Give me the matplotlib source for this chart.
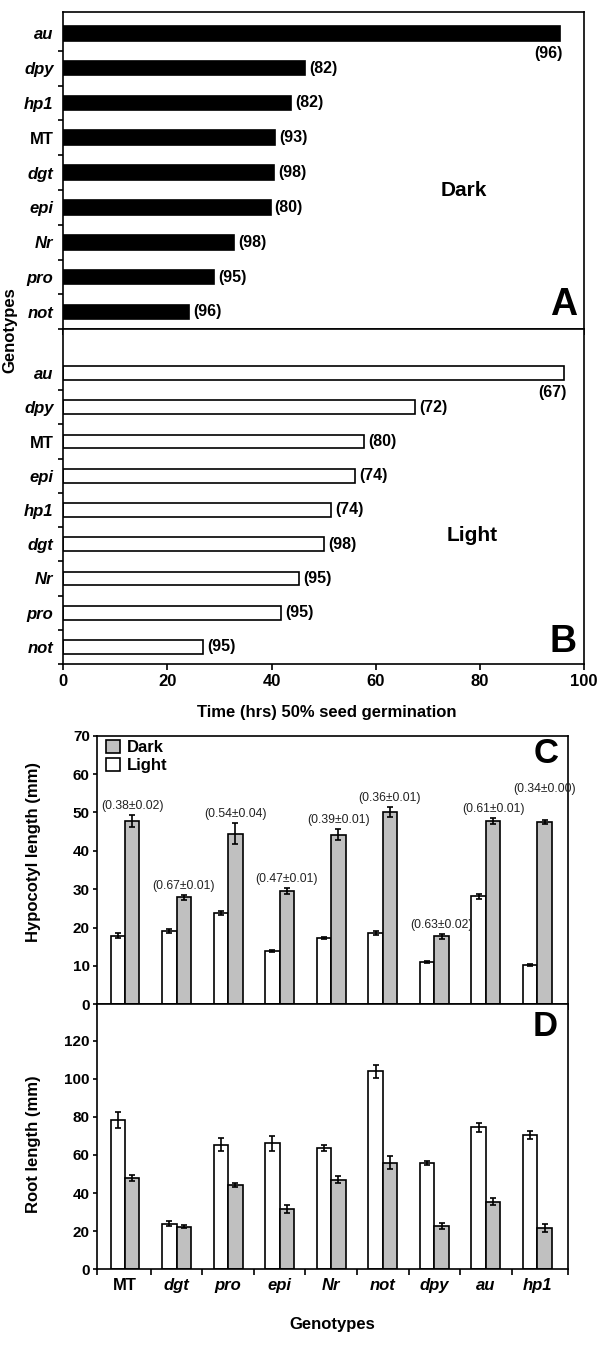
import matplotlib
matplotlib.use('Agg')
import numpy as np
from matplotlib import pyplot as plt

plt.rcParams['font.family'] = ['Liberation Sans', 'DejaVu Sans']
plt.rcParams['font.weight'] = 'bold'

# panel A (dark) - genotypes top to bottom
dark_names = ['au', 'dpy', 'hp1', 'MT', 'dgt', 'epi', 'Nr', 'pro', 'not']
dark_time = [95.4, 46.5, 43.8, 40.6, 40.4, 39.8, 32.8, 28.9, 24.2]
dark_pct = [96, 82, 82, 93, 98, 80, 98, 95, 96]

# panel B (light)
light_names = ['au', 'dpy', 'MT', 'epi', 'hp1', 'dgt', 'Nr', 'pro', 'not']
light_time = [96.2, 67.5, 57.8, 56.0, 51.5, 50.1, 45.2, 41.8, 26.9]
light_pct = [67, 72, 80, 74, 74, 98, 95, 95, 95]

# panels C and D
genotypes = ['MT', 'dgt', 'pro', 'epi', 'Nr', 'not', 'dpy', 'au', 'hp1']
hyp_light = [17.9, 19.1, 23.9, 13.9, 17.2, 18.6, 11.1, 28.1, 10.3]
hyp_light_err = [0.6, 0.4, 0.5, 0.3, 0.3, 0.6, 0.3, 0.7, 0.3]
hyp_dark = [47.8, 27.9, 44.5, 29.5, 44.2, 50.1, 17.7, 47.7, 47.5]
hyp_dark_err = [1.5, 0.6, 2.8, 0.7, 1.5, 1.3, 0.6, 0.8, 0.6]
ratios = ['(0.38±0.02)', '(0.67±0.01)', '(0.54±0.04)', '(0.47±0.01)', '(0.39±0.01)',
          '(0.36±0.01)', '(0.63±0.02)', '(0.61±0.01)', '(0.34±0.00)']
root_light = [78.4, 24.0, 65.4, 66.1, 63.7, 103.8, 55.7, 74.4, 70.6]
root_light_err = [4.2, 1.5, 3.3, 4.0, 1.6, 3.3, 1.0, 2.4, 2.2]
root_dark = [48.0, 22.3, 44.3, 31.5, 47.0, 56.0, 22.6, 35.5, 21.6]
root_dark_err = [1.5, 0.8, 1.0, 2.0, 2.0, 3.3, 1.6, 2.0, 2.1]

GRAY = '#c0c0c0'

fig = plt.figure(figsize=(6, 13.45), dpi=100)
axA = fig.add_axes([0.1055, 0.7552, 0.8678, 0.2361])
axB = fig.add_axes([0.1055, 0.5063, 0.8678, 0.2489])
axC = fig.add_axes([0.1612, 0.2533, 0.786, 0.1997])
axD = fig.add_axes([0.1612, 0.0563, 0.786, 0.197])


def style_labels(labels):
    for t in labels:
        t.set_fontstyle('normal' if t.get_text() == 'MT' else 'italic')
        t.set_fontweight('bold')


def germ_panel(ax, names, vals, pct, face, ylim, cond, cond_xy, letter, letter_y, h):
    n = len(names)
    y = np.arange(n)[::-1]
    ax.barh(y, vals, height=h, color=face, edgecolor='black', linewidth=1.2)
    for yi, v, p in zip(y, vals, pct):
        if v > 90:
            ax.annotate('(%d)' % p, (v, yi - h / 2), xytext=(2, -4), textcoords='offset points',
                        ha='right', va='top', fontsize=11.5, fontweight='bold')
        else:
            ax.annotate('(%d)' % p, (v, yi), xytext=(3, 0), textcoords='offset points',
                        ha='left', va='center', fontsize=11.5, fontweight='bold')
    ax.set_xlim(0, 100)
    ax.set_ylim(*ylim)
    ax.set_xticks(np.arange(0, 101, 20))
    ax.set_yticks(y)
    ax.set_yticklabels(names, fontsize=12)
    style_labels(ax.get_yticklabels())
    ax.set_yticks(np.arange(-0.5, n - 1, 1.0), minor=True)
    ax.tick_params(axis='y', which='major', length=0, pad=7)
    ax.tick_params(axis='y', which='minor', length=3.5, width=1.2, direction='out')
    ax.tick_params(axis='x', length=4, width=1.2, direction='out', labelsize=12)
    for s in ax.spines.values():
        s.set_linewidth(1.2)
    ax.text(cond_xy[0], cond_xy[1], cond, fontsize=15, fontweight='bold', ha='center', va='center')
    ax.text(0.96, letter_y, letter, transform=ax.transAxes, fontsize=27, fontweight='bold',
            ha='center', va='center')


germ_panel(axA, dark_names, dark_time, dark_pct, 'black', (-0.48, 8.62), 'Dark', (77, 3.49), 'A', 0.077, 0.42)
germ_panel(axB, light_names, light_time, light_pct, 'white', (-0.5, 9.28), 'Light', (78.6, 3.26), 'B', 0.067, 0.4)
axA.tick_params(axis='x', labelbottom=False)

fig.text(10 / 600, 1 - 330 / 1345, 'Genotypes', rotation=90, ha='center', va='center',
         fontsize=12, fontweight='bold')
fig.text(0.545, 1 - 713 / 1345, 'Time (hrs) 50% seed germination', ha='center', va='center',
         fontsize=12, fontweight='bold')

x = np.arange(len(genotypes))
w = 0.28
xlim = (-0.55, 8.6)


def pair_panel(ax, light, light_err, dark, dark_err, ymax, ystep):
    bl = ax.bar(x - w / 2, light, w, color='white', edgecolor='black', linewidth=1.2)
    bd = ax.bar(x + w / 2, dark, w, color=GRAY, edgecolor='black', linewidth=1.2)
    ax.errorbar(x - w / 2, light, yerr=light_err, fmt='none', ecolor='black',
                elinewidth=1.2, capsize=2.5, capthick=1.2)
    ax.errorbar(x + w / 2, dark, yerr=dark_err, fmt='none', ecolor='black',
                elinewidth=1.2, capsize=2.5, capthick=1.2)
    ax.set_xlim(*xlim)
    ax.set_ylim(0, ymax)
    ax.set_yticks(np.arange(0, ymax - 5, ystep))
    ax.set_xticks([xlim[0]] + list(np.arange(0.5, len(x) - 1, 1.0)) + [xlim[1]])
    ax.set_xticklabels([])
    ax.tick_params(axis='x', which='major', length=4.5, width=1.2, direction='out')
    ax.tick_params(axis='y', length=3, width=1.2, direction='out', labelsize=11, pad=2)
    for s in ax.spines.values():
        s.set_linewidth(1.2)
    return bl, bd


bl, bd = pair_panel(axC, hyp_light, hyp_light_err, hyp_dark, hyp_dark_err, 70, 10)
axC.set_ylim(0, 70)
axC.set_yticks(np.arange(0, 71, 10))
lift = [6.5] * 8 + [22]
for xi, v, e, lab, lf in zip(x, hyp_dark, hyp_dark_err, ratios, lift):
    axC.annotate(lab, (xi + w / 2, v + e), xytext=(0, lf), textcoords='offset points',
                 ha='center', va='center', fontsize=8.8, fontweight='normal', color='#222222')
axC.legend([bd, bl], ['Dark', 'Light'], loc='upper left', bbox_to_anchor=(0.02, 0.985),
           frameon=False, fontsize=12, handlelength=0.85, handleheight=0.85,
           handletextpad=0.4, labelspacing=0.15, borderpad=0, borderaxespad=0)
axC.set_ylabel('Hypocotyl length (mm)', fontsize=12, fontweight='bold')
axC.yaxis.set_label_coords(-0.118, 0.567)
axC.text(0.952, 0.934, 'C', transform=axC.transAxes, fontsize=25, fontweight='bold',
         ha='center', va='center')

pair_panel(axD, root_light, root_light_err, root_dark, root_dark_err, 139, 20)
axD.set_yticks(np.arange(0, 121, 20))
axD.set_xticks(x, minor=True)
axD.set_xticklabels(genotypes, minor=True, fontsize=12)
style_labels(axD.get_xticklabels(minor=True))
axD.tick_params(axis='x', which='minor', length=0, pad=6)
axD.set_ylabel('Root length (mm)', fontsize=12, fontweight='bold')
axD.yaxis.set_label_coords(-0.118, 0.473)
axD.text(0.952, 0.915, 'D', transform=axD.transAxes, fontsize=25, fontweight='bold',
         ha='center', va='center')
fig.text(332.5 / 600, 1 - 1325 / 1345, 'Genotypes', ha='center', va='center',
         fontsize=12, fontweight='bold')

fig.savefig('out.png', dpi=100)
